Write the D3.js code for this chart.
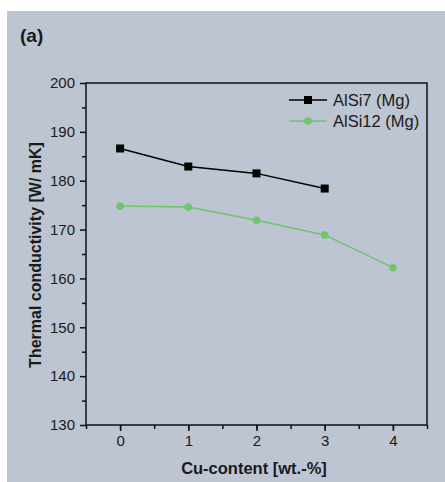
<!DOCTYPE html>
<html>
<head>
<meta charset="utf-8">
<script src="https://cdn.jsdelivr.net/npm/d3@7"></script>
<style>
  body { margin: 0; background: #fff; }
  text { font-family: "Liberation Sans", Arial, sans-serif; fill: #1a1a1a; }
</style>
</head>
<body>
<div id="chart"></div>
<script>
const cuContent = [0, 1, 2, 3, 4];
const alsi7 = [186.6, 182.9, 181.5, 178.4];
const alsi12 = [174.8, 174.6, 171.9, 168.9, 162.2];
const seriesNames = ["AlSi7 (Mg)", "AlSi12 (Mg)"];
const yTicks = [130, 140, 150, 160, 170, 180, 190, 200];

const W = 445, H = 482;
const margin = {top: 83, right: 18, bottom: 57, left: 86};
const width = W - margin.left - margin.right
    , height = H - margin.top - margin.bottom;

const svg = d3.select("#chart").append("svg")
    .attr("width", W)
    .attr("height", H);

svg.append("rect")
    .attr("x", 7).attr("y", 11)
    .attr("width", W - 7).attr("height", H - 11)
    .attr("fill", "#bcc5d1");

svg.append("text")
    .attr("x", 20).attr("y", 42)
    .style("font-size", "19px")
    .style("font-weight", "bold")
    .text("(a)");

const g = svg.append("g")
    .attr("transform", `translate(${margin.left},${margin.top})`);

const x = d3.scaleLinear().domain([-0.5, 4.5]).range([0, width]);
const y = d3.scaleLinear().domain([130, 200]).range([height, 0]);

// frame
g.append("rect")
    .attr("width", width).attr("height", height)
    .attr("fill", "none")
    .attr("stroke", "#111")
    .attr("stroke-width", 1.5);

// minor ticks
g.append("g")
    .attr("transform", `translate(0,${height})`)
    .call(d3.axisBottom(x).tickValues(d3.range(-0.5, 4.6, 0.5)).tickSize(4).tickFormat(""))
    .call(a => a.select(".domain").remove())
    .selectAll("line").attr("stroke-width", 1.5).attr("stroke", "#111");

g.append("g")
    .call(d3.axisLeft(y).tickValues(d3.range(135, 200, 10)).tickSize(4).tickFormat(""))
    .call(a => a.select(".domain").remove())
    .selectAll("line").attr("stroke-width", 1.5).attr("stroke", "#111");

// major ticks
const xAxis = g.append("g")
    .attr("transform", `translate(0,${height})`)
    .call(d3.axisBottom(x).tickValues(cuContent).tickSize(6).tickPadding(4).tickFormat(d3.format("d")));
xAxis.select(".domain").remove();
xAxis.selectAll("line").attr("stroke-width", 1.5).attr("stroke", "#111");
xAxis.selectAll("text").style("font-size", "15px").attr("fill", "#1a1a1a");

const yAxis = g.append("g")
    .call(d3.axisLeft(y).tickValues(yTicks).tickSize(6).tickPadding(5));
yAxis.select(".domain").remove();
yAxis.selectAll("line").attr("stroke-width", 1.5).attr("stroke", "#111");
yAxis.selectAll("text").style("font-size", "15px").attr("fill", "#1a1a1a");

// axis titles
svg.append("text")
    .attr("x", 254).attr("y", 474)
    .attr("text-anchor", "middle")
    .style("font-size", "16.5px").style("font-weight", "bold")
    .text("Cu-content [wt.-%]");

svg.append("text")
    .attr("transform", "translate(41,255) rotate(-90)")
    .attr("text-anchor", "middle")
    .style("font-size", "16px").style("font-weight", "bold")
    .text("Thermal conductivity [W/ mK]");

const line = d3.line()
    .x((d, i) => x(cuContent[i]))
    .y(d => y(d));

const colors = ["#000000", "#6fc56c"];

g.append("path")
    .datum(alsi7)
    .attr("fill", "none")
    .attr("stroke", colors[0])
    .attr("stroke-width", 1.5)
    .attr("d", line);

g.selectAll(".sq")
    .data(alsi7)
    .enter().append("rect")
    .attr("class", "sq")
    .attr("x", (d, i) => x(cuContent[i]) - 4)
    .attr("y", d => y(d) - 4)
    .attr("width", 8).attr("height", 8)
    .attr("fill", colors[0]);

g.append("path")
    .datum(alsi12)
    .attr("fill", "none")
    .attr("stroke", colors[1])
    .attr("stroke-width", 1.5)
    .attr("d", line);

g.selectAll(".dot")
    .data(alsi12)
    .enter().append("circle")
    .attr("class", "dot")
    .attr("cx", (d, i) => x(cuContent[i]))
    .attr("cy", d => y(d))
    .attr("r", 3.8)
    .attr("fill", colors[1]);

// legend
const legend = svg.append("g");
seriesNames.forEach((name, i) => {
    const ly = 100 + i * 21;
    legend.append("line")
        .attr("x1", 289).attr("x2", 327)
        .attr("y1", ly).attr("y2", ly)
        .attr("stroke", colors[i]).attr("stroke-width", 1.5);
    if (i === 0) {
        legend.append("rect")
            .attr("x", 304).attr("y", ly - 4)
            .attr("width", 8).attr("height", 8)
            .attr("fill", colors[i]);
    } else {
        legend.append("circle")
            .attr("cx", 308).attr("cy", ly).attr("r", 3.8)
            .attr("fill", colors[i]);
    }
    legend.append("text")
        .attr("x", 333).attr("y", ly + 6)
        .style("font-size", "16.5px")
        .text(name);
});
</script>
</body>
</html>
